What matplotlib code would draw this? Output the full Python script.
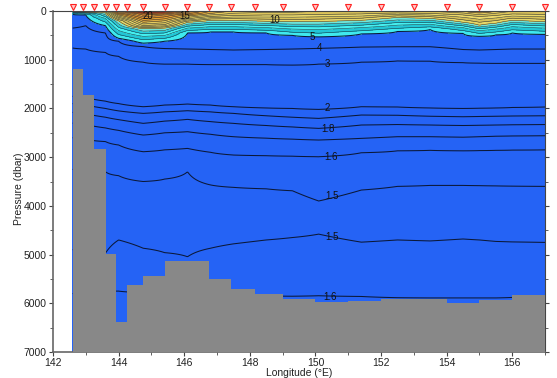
import numpy as np
import matplotlib
matplotlib.use('Agg')
import matplotlib.pyplot as plt
from matplotlib.colors import ListedColormap, BoundaryNorm
from matplotlib.ticker import MultipleLocator

plt.rcParams['font.family'] = ['Liberation Sans', 'DejaVu Sans']

nan = np.nan

# stations (red triangles) and bottom depth below each station (dbar)
station_lon = [142.6, 142.92, 143.25, 143.6, 143.93, 144.27, 144.75, 145.42, 146.08, 146.75,
               147.42, 148.17, 149.0, 150.0, 151.0, 152.0, 153.0, 154.0, 155.0, 156.0, 157.0]
bottom_depth = [1190, 1725, 2835, 4990, 6380, 5626, 5440, 5133, 5133, 5504,
                5708, 5810, 5920, 5970, 5955, 5913, 5913, 5985, 5934, 5830, 5830]

node_lon = [142.6, 143.0, 143.6, 144.0, 144.75, 145.4, 146.1, 146.8, 147.5, 148.5,
            149.3, 150.1, 151.4, 152.5, 153.5, 154.5, 155.0, 155.5, 156.0, 157.0]
surface_temp = [12, 11, 12, 19, 23, 22, 19, 16, 15, 14.5,
                14.5, 14, 14, 14, 14, 15, 17, 15, 14, 14]

# upper isotherms, depth in dbar (nan where the level is warmer than the surface)
upper_levels = [22, 20, 18, 15, 13, 10, 7, 5, 4, 3]
upper_depths = [
    [nan, nan, nan, nan, 15, nan, nan, nan, nan, nan, nan, nan, nan, nan, nan, nan, nan, nan, nan, nan],
    [nan, nan, nan, nan, 50, 40, nan, nan, nan, nan, nan, nan, nan, nan, nan, nan, nan, nan, nan, nan],
    [nan, nan, nan, 20, 120, 80, 30, nan, nan, nan, nan, nan, nan, nan, nan, nan, nan, nan, nan, nan],
    [nan, nan, nan, 80, 230, 200, 100, 50, nan, nan, nan, nan, nan, nan, nan, nan, 40, nan, nan, nan],
    [nan, nan, nan, 130, 300, 280, 160, 110, 90, 80, 80, 70, 60, 40, 50, 80, 110, 90, 60, 70],
    [15, 20, 40, 200, 360, 350, 230, 190, 190, 210, 220, 215, 190, 130, 150, 230, 290, 250, 190, 220],
    [35, 45, 150, 400, 520, 500, 350, 320, 320, 340, 370, 380, 340, 290, 270, 340, 400, 370, 320, 350],
    [60, 80, 300, 560, 660, 620, 450, 430, 430, 450, 500, 530, 470, 420, 380, 460, 520, 490, 450, 480],
    [350, 300, 450, 620, 730, 770, 780, 790, 800, 790, 780, 766, 740, 733, 733, 790, 800, 790, 780, 780],
    [760, 780, 850, 930, 1050, 1090, 1090, 1100, 1100, 1100, 1110, 1090, 1050, 1025, 1030, 1060, 1070, 1075, 1075, 1075],
]

# deep isotherms (temperature minimum between the two 1.5 lines)
deep_levels = [2.0, 1.9, 1.8, 1.7, 1.6, 1.5, 1.45, 1.5, 1.6]
deep_depths = [
    [1750, 1770, 1850, 1900, 1964, 1930, 1909, 1930, 1964, 1990, 2000, 2019, 1964, 1970, 1990, 2000, 1995, 1990, 1980, 1970],
    [1900, 1930, 2000, 2050, 2101, 2070, 2046, 2070, 2101, 2150, 2180, 2204, 2135, 2140, 2160, 2170, 2165, 2160, 2155, 2150],
    [2080, 2110, 2180, 2230, 2306, 2260, 2224, 2270, 2306, 2350, 2380, 2409, 2340, 2330, 2340, 2350, 2345, 2340, 2335, 2330],
    [2300, 2330, 2400, 2450, 2546, 2500, 2477, 2530, 2580, 2610, 2630, 2648, 2614, 2580, 2580, 2590, 2580, 2570, 2565, 2560],
    [2600, 2630, 2680, 2750, 2888, 2850, 2820, 2900, 2956, 2970, 2980, 2991, 2909, 2870, 2860, 2870, 2865, 2860, 2855, 2850],
    [3250, 3270, 3300, 3380, 3500, 3450, 3300, 3570, 3620, 3650, 3690, 3900, 3675, 3600, 3580, 3580, 3585, 3590, 3595, 3600],
    [4100, 4100, 4150, 4050, 4200, 4200, 4150, 4200, 4200, 4200, 4200, 4250, 4200, 4150, 4150, 4150, 4150, 4150, 4150, 4150],
    [4900, 4900, 4970, 4700, 4870, 4960, 5045, 4870, 4780, 4700, 4650, 4580, 4745, 4700, 4720, 4680, 4700, 4730, 4740, 4750],
    [5800, 5800, 5750, 5750, 5780, 5800, 5820, 5830, 5840, 5850, 5855, 5845, 5860, 5885, 5890, 5890, 5890, 5890, 5880, 5880],
]
bottom_temp = 1.66

deep_line_levels = [1.5, 1.6, 1.7, 1.8, 1.9, 2, 3, 4, 5]
upper_line_levels = [6, 7, 8, 9, 10, 11, 12, 13, 14, 15, 16, 17, 18, 19, 20, 21, 22, 23]
label_text = ['20', '15', '10', '5', '4', '3', '2', '1.8', '1.6', '1.5', '1.5', '1.6']
label_lon = [144.9, 146.0, 148.77, 149.9, 150.11, 150.35, 150.35, 150.38, 150.48, 150.5, 150.5, 150.45]
label_depth = [103, 103, 185, 534, 760, 1088, 1991, 2423, 2998, 3798, 4640, 5872]

fill_levels = [0, 5, 6, 7, 8, 9, 10, 11, 12, 13, 14, 15, 16, 17, 18, 19, 20, 21, 22, 30]
fill_colors = ['#2563f5',
               '#3fe9ee', '#22c6d6', '#45f0f0', '#29cdda', '#6fe6da',
               '#e8d868', '#d8c258', '#ecd96a', '#dcc45a', '#e6cc5e',
               '#dfae42', '#e8a232', '#d88f2e', '#e6a03e', '#d2822c',
               '#e0701e', '#f04418', '#ff1a10']


def node_profile(i, depth_grid):
    d = [0.0]
    t = [surface_temp[i]]
    for lev, row in zip(upper_levels, upper_depths):
        if not np.isnan(row[i]):
            d.append(row[i])
            t.append(lev)
    for lev, row in zip(deep_levels, deep_depths):
        d.append(row[i])
        t.append(lev)
    d.append(7000)
    t.append(bottom_temp)
    return np.interp(depth_grid, d, t)


def main():
    lon_grid = np.linspace(node_lon[0], node_lon[-1], 600)
    depth_grid = np.linspace(0, 7000, 1401)
    t_nodes = np.array([node_profile(i, depth_grid) for i in range(len(node_lon))])
    temp = np.array([np.interp(lon_grid, node_lon, t_nodes[:, j]) for j in range(len(depth_grid))])

    fig = plt.figure(figsize=(5.57, 3.78), dpi=100)
    ax = fig.add_axes([0.0952, 0.0688, 0.8833, 0.902])

    cmap = ListedColormap(fill_colors)
    norm = BoundaryNorm(fill_levels, cmap.N)
    ax.contourf(lon_grid, depth_grid, temp, levels=fill_levels, cmap=cmap, norm=norm, zorder=1)
    ax.contour(lon_grid, depth_grid, temp, levels=deep_line_levels, colors='#0b1838',
               linewidths=0.75, zorder=2)
    ax.contour(lon_grid, depth_grid, temp, levels=upper_line_levels, colors='#15202e',
               linewidths=0.4, alpha=0.85, zorder=2)

    ax.fill_between(station_lon, bottom_depth, 7000, step='post', color='#888888',
                    linewidth=0, zorder=3)

    for txt, x, y in zip(label_text, label_lon, label_depth):
        ax.text(x, y, txt, fontsize=7, ha='center', va='center', color='#111111', zorder=4)

    ax.plot(station_lon, [-85] * len(station_lon), linestyle='none', marker='v', markersize=5,
            markerfacecolor='#ffc8c8', markeredgecolor='#ff2020', markeredgewidth=0.8,
            clip_on=False, zorder=5)

    ax.set_xlim(142, 157)
    ax.set_ylim(7000, 0)
    ax.xaxis.set_major_locator(MultipleLocator(2))
    ax.xaxis.set_minor_locator(MultipleLocator(1))
    ax.yaxis.set_major_locator(MultipleLocator(1000))
    ax.yaxis.set_minor_locator(MultipleLocator(500))
    ax.tick_params(which='both', direction='out', labelsize=7.5, colors='#444444',
                   labelcolor='#222222', right=True, pad=1.5)
    ax.tick_params(which='major', length=3)
    ax.tick_params(which='minor', length=2)
    ax.set_xlabel('Longitude (°E)', fontsize=7.5, color='#222222', labelpad=0)
    ax.set_ylabel('Pressure (dbar)', fontsize=7.5, color='#222222')
    ax.yaxis.set_label_coords(-0.058, 0.48)
    for side in ['left', 'bottom']:
        ax.spines[side].set_color('#666666')
        ax.spines[side].set_linewidth(1.2)
    for side in ['right', 'top']:
        ax.spines[side].set_color('#444444')
        ax.spines[side].set_linewidth(0.8)

    fig.savefig('out.png', dpi=100)


if __name__ == "__main__":
    main()
